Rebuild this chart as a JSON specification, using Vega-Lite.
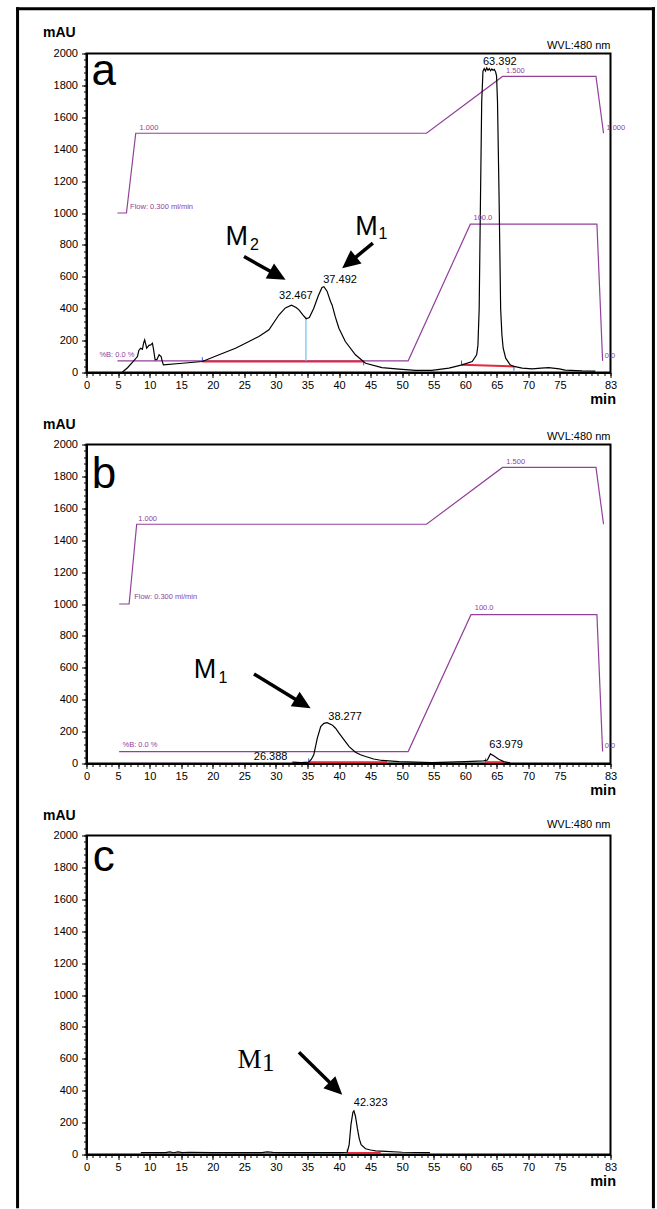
{
 "$schema": "https://vega.github.io/schema/vega-lite/v6.json",
 "background": "white",
 "padding": {"left": 13.5, "top": 5.5, "right": 0, "bottom": 0},
 "spacing": 72,
 "bounds": "flush",
 "config": {
  "font": "Liberation Sans",
  "view": {"stroke": "black", "strokeWidth": 2},
  "axis": {"domainColor": "black", "domainWidth": 2, "tickColor": "black", "labelColor": "black", "labelFont": "Liberation Sans", "labelFontSize": 11, "grid": false, "titleColor": "black", "titleFont": "Liberation Sans"}
 },
 "datasets": {
  "frame": [
   {"t": -10.92, "v": 2280, "t2": -10.92, "v2": -5230},
   {"t": 89.8, "v": 2280, "t2": 89.8, "v2": -5230},
   {"t": -10.92, "v": 2280, "t2": 89.8, "v2": 2280}
  ],
  "chrom": [
   {"panel":"a","t":5.7,"v":3},{"panel":"a","t":6.5,"v":30},{"panel":"a","t":7.3,"v":65},{"panel":"a","t":8.07,"v":100},{"panel":"a","t":8.3,"v":140},{"panel":"a","t":8.59,"v":152},{"panel":"a","t":8.86,"v":145},{"panel":"a","t":9.05,"v":185},{"panel":"a","t":9.22,"v":205},{"panel":"a","t":9.4,"v":175},{"panel":"a","t":9.54,"v":152},{"panel":"a","t":9.89,"v":170},{"panel":"a","t":10.17,"v":173},{"panel":"a","t":10.44,"v":184},{"panel":"a","t":10.6,"v":150},{"panel":"a","t":10.87,"v":80},{"panel":"a","t":11.16,"v":82},{"panel":"a","t":11.5,"v":111},{"panel":"a","t":11.82,"v":100},{"panel":"a","t":12.0,"v":70},{"panel":"a","t":12.18,"v":48},{"panel":"a","t":15.19,"v":58},{"panel":"a","t":18.35,"v":69},{"panel":"a","t":21.0,"v":111},{"panel":"a","t":23.6,"v":152},{"panel":"a","t":25.5,"v":190},{"panel":"a","t":27.3,"v":226},{"panel":"a","t":28.9,"v":268},{"panel":"a","t":30.5,"v":362},{"panel":"a","t":31.5,"v":405},{"panel":"a","t":32.47,"v":422},{"panel":"a","t":33.2,"v":408},{"panel":"a","t":33.65,"v":393},{"panel":"a","t":34.3,"v":360},{"panel":"a","t":34.8,"v":337},{"panel":"a","t":35.3,"v":345},{"panel":"a","t":36.0,"v":403},{"panel":"a","t":36.7,"v":480},{"panel":"a","t":37.3,"v":533},{"panel":"a","t":37.6,"v":538},{"panel":"a","t":38.1,"v":510},{"panel":"a","t":38.65,"v":445},{"panel":"a","t":38.9,"v":424},{"panel":"a","t":39.4,"v":350},{"panel":"a","t":39.98,"v":278},{"panel":"a","t":41.0,"v":194},{"panel":"a","t":42.6,"v":111},{"panel":"a","t":44.2,"v":58},{"panel":"a","t":46.8,"v":31},{"panel":"a","t":49.5,"v":21},{"panel":"a","t":52.1,"v":13},{"panel":"a","t":54.7,"v":13},{"panel":"a","t":57.4,"v":27},{"panel":"a","t":59.5,"v":48},{"panel":"a","t":61.1,"v":69},{"panel":"a","t":61.8,"v":111},{"panel":"a","t":62.0,"v":170},{"panel":"a","t":62.2,"v":400},{"panel":"a","t":62.4,"v":1072},{"panel":"a","t":62.6,"v":1700},{"panel":"a","t":62.8,"v":1890},{"panel":"a","t":63.0,"v":1905},{"panel":"a","t":63.2,"v":1890},{"panel":"a","t":63.4,"v":1910},{"panel":"a","t":63.6,"v":1895},{"panel":"a","t":63.8,"v":1905},{"panel":"a","t":64.0,"v":1892},{"panel":"a","t":64.2,"v":1903},{"panel":"a","t":64.4,"v":1895},{"panel":"a","t":64.6,"v":1900},{"panel":"a","t":64.8,"v":1885},{"panel":"a","t":64.95,"v":1860},{"panel":"a","t":65.1,"v":1700},{"panel":"a","t":65.35,"v":1100},{"panel":"a","t":65.6,"v":400},{"panel":"a","t":65.8,"v":236},{"panel":"a","t":66.0,"v":152},{"panel":"a","t":66.4,"v":90},{"panel":"a","t":67.1,"v":48},{"panel":"a","t":67.7,"v":38},{"panel":"a","t":69.0,"v":27},{"panel":"a","t":70.6,"v":23},{"panel":"a","t":72.0,"v":28},{"panel":"a","t":73.2,"v":31},{"panel":"a","t":74.9,"v":23},{"panel":"a","t":75.8,"v":15},{"panel":"a","t":78.5,"v":10},{"panel":"a","t":80.6,"v":8},
   {"panel":"b","t":32.6,"v":8},{"panel":"b","t":34.0,"v":6},{"panel":"b","t":35.2,"v":8},{"panel":"b","t":35.6,"v":25},{"panel":"b","t":36.0,"v":54},{"panel":"b","t":36.55,"v":158},{"panel":"b","t":37.1,"v":231},{"panel":"b","t":37.6,"v":252},{"panel":"b","t":38.1,"v":256},{"panel":"b","t":38.9,"v":242},{"panel":"b","t":39.45,"v":221},{"panel":"b","t":40.0,"v":190},{"panel":"b","t":40.8,"v":148},{"panel":"b","t":41.6,"v":106},{"panel":"b","t":42.6,"v":71},{"panel":"b","t":43.4,"v":55},{"panel":"b","t":44.2,"v":44},{"panel":"b","t":45.5,"v":28},{"panel":"b","t":46.8,"v":19},{"panel":"b","t":49.5,"v":12},{"panel":"b","t":54.7,"v":6},{"panel":"b","t":60.0,"v":12},{"panel":"b","t":62.9,"v":17},{"panel":"b","t":63.5,"v":22},{"panel":"b","t":63.98,"v":60},{"panel":"b","t":64.5,"v":48},{"panel":"b","t":65.3,"v":27},{"panel":"b","t":66.1,"v":12},{"panel":"b","t":67.1,"v":4},
   {"panel":"c","t":8.6,"v":12},{"panel":"c","t":12.5,"v":12},{"panel":"c","t":13.2,"v":16},{"panel":"c","t":13.8,"v":11},{"panel":"c","t":14.5,"v":17},{"panel":"c","t":15.2,"v":12},{"panel":"c","t":16.3,"v":14},{"panel":"c","t":20.0,"v":12},{"panel":"c","t":27.8,"v":12},{"panel":"c","t":28.6,"v":16},{"panel":"c","t":29.5,"v":13},{"panel":"c","t":30.5,"v":12},{"panel":"c","t":40.0,"v":12},{"panel":"c","t":41.3,"v":14},{"panel":"c","t":41.6,"v":60},{"panel":"c","t":41.9,"v":190},{"panel":"c","t":42.2,"v":265},{"panel":"c","t":42.36,"v":274},{"panel":"c","t":42.6,"v":240},{"panel":"c","t":42.9,"v":165},{"panel":"c","t":43.2,"v":100},{"panel":"c","t":43.5,"v":61},{"panel":"c","t":44.2,"v":36},{"panel":"c","t":45.0,"v":28},{"panel":"c","t":45.8,"v":23},{"panel":"c","t":47.4,"v":19},{"panel":"c","t":50.0,"v":14},{"panel":"c","t":54.4,"v":12}
  ],
  "grad": [
   {"panel":"a","series":"flow","t":4.9,"v":1000},{"panel":"a","series":"flow","t":6.33,"v":1000},{"panel":"a","series":"flow","t":7.8,"v":1500},{"panel":"a","series":"flow","t":53.85,"v":1500},{"panel":"a","series":"flow","t":65.9,"v":1856},{"panel":"a","series":"flow","t":80.7,"v":1856},{"panel":"a","series":"flow","t":81.9,"v":1500},
   {"panel":"a","series":"B","t":4.9,"v":73},{"panel":"a","series":"B","t":50.95,"v":73},{"panel":"a","series":"B","t":60.8,"v":930},{"panel":"a","series":"B","t":80.85,"v":930},{"panel":"a","series":"B","t":81.75,"v":73},
   {"panel":"b","series":"flow","t":5.17,"v":1000},{"panel":"b","series":"flow","t":6.75,"v":1000},{"panel":"b","series":"flow","t":7.95,"v":1500},{"panel":"b","series":"flow","t":53.85,"v":1500},{"panel":"b","series":"flow","t":65.9,"v":1856},{"panel":"b","series":"flow","t":80.7,"v":1856},{"panel":"b","series":"flow","t":81.9,"v":1500},
   {"panel":"b","series":"B","t":5.17,"v":75},{"panel":"b","series":"B","t":50.95,"v":75},{"panel":"b","series":"B","t":60.9,"v":933},{"panel":"b","series":"B","t":80.85,"v":933},{"panel":"b","series":"B","t":81.75,"v":75}
  ],
  "base": [
   {"panel":"a","t":18.35,"v":69,"t2":43.9,"v2":69},{"panel":"a","t":59.4,"v":48,"t2":67.7,"v2":38},
   {"panel":"b","t":35.2,"v":8,"t2":47.6,"v2":8},{"panel":"b","t":63.2,"v":8,"t2":66.1,"v2":8},
   {"panel":"c","t":41.3,"v":10,"t2":46.6,"v2":10}
  ],
  "marks": [
   {"panel":"a","t":18.35,"v":69,"v2":95},{"panel":"a","t":43.9,"v":69,"v2":45},{"panel":"a","t":59.4,"v":48,"v2":75},{"panel":"a","t":67.7,"v":38,"v2":12},
   {"panel":"b","t":35.2,"v":6,"v2":32},{"panel":"b","t":63.2,"v":6,"v2":32},
   {"panel":"c","t":41.3,"v":8,"v2":34}
  ],
  "drop": [
   {"panel":"a","t":34.76,"v":73,"v2":350}
  ],
  "labels": [
   {"panel":"a","kind":"wvl","t":83,"v":2031,"text":"WVL:480 nm"},{"panel":"b","kind":"wvl","t":83,"v":2031,"text":"WVL:480 nm"},{"panel":"c","kind":"wvl","t":83,"v":2044,"text":"WVL:480 nm"},
   {"panel":"a","kind":"peak","t":30.5,"v":460,"text":"32.467"},{"panel":"a","kind":"peak","t":37.5,"v":560,"text":"37.492"},{"panel":"a","kind":"peak","t":62.8,"v":1929,"text":"63.392"},
   {"panel":"b","kind":"peak","t":26.5,"v":19,"text":"26.388"},{"panel":"b","kind":"peak","t":38.3,"v":273,"text":"38.277"},{"panel":"b","kind":"peak","t":63.8,"v":100,"text":"63.979"},
   {"panel":"c","kind":"peak","t":42.35,"v":305,"text":"42.323"},
   {"panel":"a","kind":"grad","t":6.9,"v":1026,"text":"Flow: 0.300 ml/min"},{"panel":"a","kind":"grad","t":8.4,"v":1523,"text":"1.000"},{"panel":"a","kind":"grad","t":66.45,"v":1877,"text":"1.500"},{"panel":"a","kind":"grad","t":82.35,"v":1521,"text":"1.000"},{"panel":"a","kind":"grad","t":2.05,"v":100,"text":"%B: 0.0 %"},{"panel":"a","kind":"grad","t":61.3,"v":953,"text":"100.0"},{"panel":"a","kind":"grad","t":82.1,"v":94,"text":"0.0"},
   {"panel":"b","kind":"grad","t":7.55,"v":1030,"text":"Flow: 0.300 ml/min"},{"panel":"b","kind":"grad","t":8.2,"v":1523,"text":"1.000"},{"panel":"b","kind":"grad","t":66.5,"v":1880,"text":"1.500"},{"panel":"b","kind":"grad","t":5.7,"v":102,"text":"%B: 0.0 %"},{"panel":"b","kind":"grad","t":61.5,"v":960,"text":"100.0"},{"panel":"b","kind":"grad","t":82.1,"v":100,"text":"0.0"},
   {"panel":"a","kind":"M","t":22.0,"v":802,"text":"M"},{"panel":"a","kind":"M","t":42.56,"v":863,"text":"M"},{"panel":"b","kind":"M","t":16.98,"v":533,"text":"M"},{"panel":"c","kind":"M","t":23.9,"v":541,"text":"M"},
   {"panel":"a","kind":"sub","t":25.9,"v":765,"text":"2"},{"panel":"a","kind":"sub","t":46.25,"v":834,"text":"1"},{"panel":"b","kind":"sub","t":20.9,"v":502,"text":"1"},{"panel":"c","kind":"sub","t":27.8,"v":525,"text":"1"},
   {"panel":"a","kind":"letter","t":0.8,"v":1804,"text":"a"},{"panel":"b","kind":"letter","t":0.85,"v":1726,"text":"b"},{"panel":"c","kind":"letter","t":1.0,"v":1776,"text":"c"}
  ],
  "arrows": [
   {"panel":"a","t":24.95,"v":727,"t2":29.46,"v2":627,"tt":31.53,"tv":581,"angle":29.25},
   {"panel":"a","t":45.36,"v":811,"t2":42.34,"v2":713,"tt":40.5,"tv":654,"angle":140.8},
   {"panel":"b","t":26.53,"v":561,"t2":33.47,"v2":394,"tt":35.49,"tv":346,"angle":31.3},
   {"panel":"c","t":33.65,"v":641,"t2":38.81,"v2":440,"tt":40.5,"tv":374,"angle":44.5}
  ]
 },
 "vconcat": [
  {
   "width": 524, "height": 319,
   "encoding": {
    "x": {"field": "t", "type": "quantitative", "scale": {"domain": [0, 83], "nice": false, "zero": false}, "axis": null},
    "y": {"field": "v", "type": "quantitative", "scale": {"domain": [0, 2000], "nice": false}, "axis": null}
   },
   "layer": [
    {"data": {"name": "frame"}, "mark": {"type": "rule", "clip": false, "strokeWidth": 3, "strokeCap": "square", "color": "black"}, "encoding": {"x2": {"field": "t2"}, "y2": {"field": "v2"}}},
    {"data": {"name": "grad"}, "transform": [{"filter": "datum.panel === 'a'"}], "mark": {"type": "line", "color": "#92409a", "strokeWidth": 1.2}, "encoding": {"detail": {"field": "series"}}},
    {"data": {"name": "base"}, "transform": [{"filter": "datum.panel === 'a'"}], "mark": {"type": "rule", "color": "#e3283a", "strokeWidth": 2},
     "encoding": {
      "x": {"field": "t", "type": "quantitative", "scale": {"domain": [0, 83], "nice": false, "zero": false}, "axis": {"orient": "bottom", "values": [0,1,2,3,4,5,6,7,8,9,10,11,12,13,14,15,16,17,18,19,20,21,22,23,24,25,26,27,28,29,30,31,32,33,34,35,36,37,38,39,40,41,42,43,44,45,46,47,48,49,50,51,52,53,54,55,56,57,58,59,60,61,62,63,64,65,66,67,68,69,70,71,72,73,74,75,76,77,78,79,80,81,82,83], "tickSize": 3, "labels": false, "domain": false, "title": null}},
      "y": {"field": "v", "type": "quantitative", "scale": {"domain": [0, 2000], "nice": false}, "axis": {"orient": "left", "values": [0,40,80,120,160,200,240,280,320,360,400,440,480,520,560,600,640,680,720,760,800,840,880,920,960,1000,1040,1080,1120,1160,1200,1240,1280,1320,1360,1400,1440,1480,1520,1560,1600,1640,1680,1720,1760,1800,1840,1880,1920,1960,2000], "tickSize": 3, "labels": false, "domain": false, "title": null}},
      "x2": {"field": "t2"}, "y2": {"field": "v2"}}},
    {"data": {"name": "drop"}, "transform": [{"filter": "datum.panel === 'a'"}], "mark": {"type": "rule", "color": "#6cc0e0", "strokeWidth": 1.2}, "encoding": {"y2": {"field": "v2"}}},
    {"data": {"name": "marks"}, "transform": [{"filter": "datum.panel === 'a'"}], "mark": {"type": "rule", "color": "#3556c8", "strokeWidth": 1}, "encoding": {"y2": {"field": "v2"}}},
    {"data": {"name": "chrom"}, "transform": [{"filter": "datum.panel === 'a'"}], "mark": {"type": "line", "color": "black", "strokeWidth": 1.2},
     "encoding": {
      "x": {"field": "t", "type": "quantitative", "scale": {"domain": [0, 83], "nice": false, "zero": false}, "axis": {"orient": "bottom", "values": [0,5,10,15,20,25,30,35,40,45,50,55,60,65,70,75,83], "format": "d", "tickSize": 5, "labelPadding": 2, "labelFlush": false, "labelOverlap": false, "title": "min", "titleFontSize": 14.5, "titleFontWeight": "bold", "titleX": 529, "titleY": 31, "titleAlign": "right", "titleBaseline": "alphabetic", "titleAnchor": null}},
      "y": {"field": "v", "type": "quantitative", "scale": {"domain": [0, 2000], "nice": false}, "axis": {"orient": "left", "values": [0,200,400,600,800,1000,1200,1400,1600,1800,2000], "format": "d", "tickSize": 5, "labelPadding": 4, "labelFlush": false, "labelOverlap": false, "title": "mAU", "titleAngle": 0, "titleAlign": "left", "titleBaseline": "alphabetic", "titleX": -44, "titleY": -17, "titleFontSize": 14, "titleFontWeight": "bold"}}}},
    {"data": {"name": "labels"}, "transform": [{"filter": "datum.panel === 'a' && datum.kind === 'wvl'"}], "mark": {"type": "text", "align": "right", "baseline": "alphabetic", "fontSize": 11, "color": "black"}, "encoding": {"text": {"field": "text"}}},
    {"data": {"name": "labels"}, "transform": [{"filter": "datum.panel === 'a' && datum.kind === 'grad'"}], "mark": {"type": "text", "align": "left", "baseline": "alphabetic", "fontSize": 7.5, "color": "#92409a"}, "encoding": {"text": {"field": "text"}}},
    {"data": {"name": "labels"}, "transform": [{"filter": "datum.panel === 'a' && datum.kind === 'peak'"}], "mark": {"type": "text", "align": "left", "baseline": "alphabetic", "fontSize": 11, "color": "black"}, "encoding": {"text": {"field": "text"}}},
    {"data": {"name": "labels"}, "transform": [{"filter": "datum.panel === 'a' && datum.kind === 'M'"}], "mark": {"type": "text", "align": "left", "baseline": "alphabetic", "fontSize": 27, "color": "black"}, "encoding": {"text": {"field": "text"}}},
    {"data": {"name": "labels"}, "transform": [{"filter": "datum.panel === 'a' && datum.kind === 'sub'"}], "mark": {"type": "text", "align": "left", "baseline": "alphabetic", "fontSize": 16, "color": "black"}, "encoding": {"text": {"field": "text"}}},
    {"data": {"name": "labels"}, "transform": [{"filter": "datum.panel === 'a' && datum.kind === 'letter'"}], "mark": {"type": "text", "align": "left", "baseline": "alphabetic", "fontSize": 44, "color": "black"}, "encoding": {"text": {"field": "text"}}},
    {"data": {"name": "arrows"}, "transform": [{"filter": "datum.panel === 'a'"}], "mark": {"type": "rule", "color": "black", "strokeWidth": 3.5}, "encoding": {"x2": {"field": "t2"}, "y2": {"field": "v2"}}},
    {"data": {"name": "arrows"}, "transform": [{"filter": "datum.panel === 'a'"}], "mark": {"type": "point", "shape": "M 0 0 L -2 -0.95 L -2 0.95 Z", "size": 324, "filled": true, "color": "black", "opacity": 1, "strokeWidth": 0},
     "encoding": {"x": {"field": "tt", "type": "quantitative", "scale": {"domain": [0, 83], "nice": false, "zero": false}, "axis": null}, "y": {"field": "tv", "type": "quantitative", "scale": {"domain": [0, 2000], "nice": false}, "axis": null}, "angle": {"field": "angle", "type": "quantitative", "scale": null}}}
   ],
   "resolve": {"axis": {"x": "independent", "y": "independent"}}
  },
  {
   "width": 524, "height": 319,
   "encoding": {
    "x": {"field": "t", "type": "quantitative", "scale": {"domain": [0, 83], "nice": false, "zero": false}, "axis": null},
    "y": {"field": "v", "type": "quantitative", "scale": {"domain": [0, 2000], "nice": false}, "axis": null}
   },
   "layer": [
    {"data": {"name": "grad"}, "transform": [{"filter": "datum.panel === 'b'"}], "mark": {"type": "line", "color": "#92409a", "strokeWidth": 1.2}, "encoding": {"detail": {"field": "series"}}},
    {"data": {"name": "base"}, "transform": [{"filter": "datum.panel === 'b'"}], "mark": {"type": "rule", "color": "#e3283a", "strokeWidth": 2},
     "encoding": {
      "x": {"field": "t", "type": "quantitative", "scale": {"domain": [0, 83], "nice": false, "zero": false}, "axis": {"orient": "bottom", "values": [0,1,2,3,4,5,6,7,8,9,10,11,12,13,14,15,16,17,18,19,20,21,22,23,24,25,26,27,28,29,30,31,32,33,34,35,36,37,38,39,40,41,42,43,44,45,46,47,48,49,50,51,52,53,54,55,56,57,58,59,60,61,62,63,64,65,66,67,68,69,70,71,72,73,74,75,76,77,78,79,80,81,82,83], "tickSize": 3, "labels": false, "domain": false, "title": null}},
      "y": {"field": "v", "type": "quantitative", "scale": {"domain": [0, 2000], "nice": false}, "axis": {"orient": "left", "values": [0,40,80,120,160,200,240,280,320,360,400,440,480,520,560,600,640,680,720,760,800,840,880,920,960,1000,1040,1080,1120,1160,1200,1240,1280,1320,1360,1400,1440,1480,1520,1560,1600,1640,1680,1720,1760,1800,1840,1880,1920,1960,2000], "tickSize": 3, "labels": false, "domain": false, "title": null}},
      "x2": {"field": "t2"}, "y2": {"field": "v2"}}},
    {"data": {"name": "marks"}, "transform": [{"filter": "datum.panel === 'b'"}], "mark": {"type": "rule", "color": "#3556c8", "strokeWidth": 1}, "encoding": {"y2": {"field": "v2"}}},
    {"data": {"name": "chrom"}, "transform": [{"filter": "datum.panel === 'b'"}], "mark": {"type": "line", "color": "black", "strokeWidth": 1.2},
     "encoding": {
      "x": {"field": "t", "type": "quantitative", "scale": {"domain": [0, 83], "nice": false, "zero": false}, "axis": {"orient": "bottom", "values": [0,5,10,15,20,25,30,35,40,45,50,55,60,65,70,75,83], "format": "d", "tickSize": 5, "labelPadding": 2, "labelFlush": false, "labelOverlap": false, "title": "min", "titleFontSize": 14.5, "titleFontWeight": "bold", "titleX": 529, "titleY": 31, "titleAlign": "right", "titleBaseline": "alphabetic", "titleAnchor": null}},
      "y": {"field": "v", "type": "quantitative", "scale": {"domain": [0, 2000], "nice": false}, "axis": {"orient": "left", "values": [0,200,400,600,800,1000,1200,1400,1600,1800,2000], "format": "d", "tickSize": 5, "labelPadding": 4, "labelFlush": false, "labelOverlap": false, "title": "mAU", "titleAngle": 0, "titleAlign": "left", "titleBaseline": "alphabetic", "titleX": -44, "titleY": -16, "titleFontSize": 14, "titleFontWeight": "bold"}}}},
    {"data": {"name": "labels"}, "transform": [{"filter": "datum.panel === 'b' && datum.kind === 'wvl'"}], "mark": {"type": "text", "align": "right", "baseline": "alphabetic", "fontSize": 11, "color": "black"}, "encoding": {"text": {"field": "text"}}},
    {"data": {"name": "labels"}, "transform": [{"filter": "datum.panel === 'b' && datum.kind === 'grad'"}], "mark": {"type": "text", "align": "left", "baseline": "alphabetic", "fontSize": 7.5, "color": "#92409a"}, "encoding": {"text": {"field": "text"}}},
    {"data": {"name": "labels"}, "transform": [{"filter": "datum.panel === 'b' && datum.kind === 'peak'"}], "mark": {"type": "text", "align": "left", "baseline": "alphabetic", "fontSize": 11, "color": "black"}, "encoding": {"text": {"field": "text"}}},
    {"data": {"name": "labels"}, "transform": [{"filter": "datum.panel === 'b' && datum.kind === 'M'"}], "mark": {"type": "text", "align": "left", "baseline": "alphabetic", "fontSize": 27, "color": "black"}, "encoding": {"text": {"field": "text"}}},
    {"data": {"name": "labels"}, "transform": [{"filter": "datum.panel === 'b' && datum.kind === 'sub'"}], "mark": {"type": "text", "align": "left", "baseline": "alphabetic", "fontSize": 16, "color": "black"}, "encoding": {"text": {"field": "text"}}},
    {"data": {"name": "labels"}, "transform": [{"filter": "datum.panel === 'b' && datum.kind === 'letter'"}], "mark": {"type": "text", "align": "left", "baseline": "alphabetic", "fontSize": 44, "color": "black"}, "encoding": {"text": {"field": "text"}}},
    {"data": {"name": "arrows"}, "transform": [{"filter": "datum.panel === 'b'"}], "mark": {"type": "rule", "color": "black", "strokeWidth": 3.5}, "encoding": {"x2": {"field": "t2"}, "y2": {"field": "v2"}}},
    {"data": {"name": "arrows"}, "transform": [{"filter": "datum.panel === 'b'"}], "mark": {"type": "point", "shape": "M 0 0 L -2 -0.95 L -2 0.95 Z", "size": 324, "filled": true, "color": "black", "opacity": 1, "strokeWidth": 0},
     "encoding": {"x": {"field": "tt", "type": "quantitative", "scale": {"domain": [0, 83], "nice": false, "zero": false}, "axis": null}, "y": {"field": "tv", "type": "quantitative", "scale": {"domain": [0, 2000], "nice": false}, "axis": null}, "angle": {"field": "angle", "type": "quantitative", "scale": null}}}
   ],
   "resolve": {"axis": {"x": "independent", "y": "independent"}}
  },
  {
   "width": 524, "height": 319,
   "encoding": {
    "x": {"field": "t", "type": "quantitative", "scale": {"domain": [0, 83], "nice": false, "zero": false}, "axis": null},
    "y": {"field": "v", "type": "quantitative", "scale": {"domain": [0, 2000], "nice": false}, "axis": null}
   },
   "layer": [
    {"data": {"name": "base"}, "transform": [{"filter": "datum.panel === 'c'"}], "mark": {"type": "rule", "color": "#e3283a", "strokeWidth": 2},
     "encoding": {
      "x": {"field": "t", "type": "quantitative", "scale": {"domain": [0, 83], "nice": false, "zero": false}, "axis": {"orient": "bottom", "values": [0,1,2,3,4,5,6,7,8,9,10,11,12,13,14,15,16,17,18,19,20,21,22,23,24,25,26,27,28,29,30,31,32,33,34,35,36,37,38,39,40,41,42,43,44,45,46,47,48,49,50,51,52,53,54,55,56,57,58,59,60,61,62,63,64,65,66,67,68,69,70,71,72,73,74,75,76,77,78,79,80,81,82,83], "tickSize": 3, "labels": false, "domain": false, "title": null}},
      "y": {"field": "v", "type": "quantitative", "scale": {"domain": [0, 2000], "nice": false}, "axis": {"orient": "left", "values": [0,40,80,120,160,200,240,280,320,360,400,440,480,520,560,600,640,680,720,760,800,840,880,920,960,1000,1040,1080,1120,1160,1200,1240,1280,1320,1360,1400,1440,1480,1520,1560,1600,1640,1680,1720,1760,1800,1840,1880,1920,1960,2000], "tickSize": 3, "labels": false, "domain": false, "title": null}},
      "x2": {"field": "t2"}, "y2": {"field": "v2"}}},
    {"data": {"name": "marks"}, "transform": [{"filter": "datum.panel === 'c'"}], "mark": {"type": "rule", "color": "#3556c8", "strokeWidth": 1}, "encoding": {"y2": {"field": "v2"}}},
    {"data": {"name": "chrom"}, "transform": [{"filter": "datum.panel === 'c'"}], "mark": {"type": "line", "color": "black", "strokeWidth": 1.2},
     "encoding": {
      "x": {"field": "t", "type": "quantitative", "scale": {"domain": [0, 83], "nice": false, "zero": false}, "axis": {"orient": "bottom", "values": [0,5,10,15,20,25,30,35,40,45,50,55,60,65,70,75,83], "format": "d", "tickSize": 5, "labelPadding": 2, "labelFlush": false, "labelOverlap": false, "title": "min", "titleFontSize": 14.5, "titleFontWeight": "bold", "titleX": 529, "titleY": 31, "titleAlign": "right", "titleBaseline": "alphabetic", "titleAnchor": null}},
      "y": {"field": "v", "type": "quantitative", "scale": {"domain": [0, 2000], "nice": false}, "axis": {"orient": "left", "values": [0,200,400,600,800,1000,1200,1400,1600,1800,2000], "format": "d", "tickSize": 5, "labelPadding": 4, "labelFlush": false, "labelOverlap": false, "title": "mAU", "titleAngle": 0, "titleAlign": "left", "titleBaseline": "alphabetic", "titleX": -44, "titleY": -16, "titleFontSize": 14, "titleFontWeight": "bold"}}}},
    {"data": {"name": "labels"}, "transform": [{"filter": "datum.panel === 'c' && datum.kind === 'wvl'"}], "mark": {"type": "text", "align": "right", "baseline": "alphabetic", "fontSize": 11, "color": "black"}, "encoding": {"text": {"field": "text"}}},
    {"data": {"name": "labels"}, "transform": [{"filter": "datum.panel === 'c' && datum.kind === 'peak'"}], "mark": {"type": "text", "align": "left", "baseline": "alphabetic", "fontSize": 11, "color": "black"}, "encoding": {"text": {"field": "text"}}},
    {"data": {"name": "labels"}, "transform": [{"filter": "datum.panel === 'c' && datum.kind === 'M'"}], "mark": {"type": "text", "align": "left", "baseline": "alphabetic", "fontSize": 27, "font": "Liberation Serif", "color": "black"}, "encoding": {"text": {"field": "text"}}},
    {"data": {"name": "labels"}, "transform": [{"filter": "datum.panel === 'c' && datum.kind === 'sub'"}], "mark": {"type": "text", "align": "left", "baseline": "alphabetic", "fontSize": 25, "font": "Liberation Serif", "color": "black"}, "encoding": {"text": {"field": "text"}}},
    {"data": {"name": "labels"}, "transform": [{"filter": "datum.panel === 'c' && datum.kind === 'letter'"}], "mark": {"type": "text", "align": "left", "baseline": "alphabetic", "fontSize": 44, "color": "black"}, "encoding": {"text": {"field": "text"}}},
    {"data": {"name": "arrows"}, "transform": [{"filter": "datum.panel === 'c'"}], "mark": {"type": "rule", "color": "black", "strokeWidth": 3.5}, "encoding": {"x2": {"field": "t2"}, "y2": {"field": "v2"}}},
    {"data": {"name": "arrows"}, "transform": [{"filter": "datum.panel === 'c'"}], "mark": {"type": "point", "shape": "M 0 0 L -2 -0.95 L -2 0.95 Z", "size": 324, "filled": true, "color": "black", "opacity": 1, "strokeWidth": 0},
     "encoding": {"x": {"field": "tt", "type": "quantitative", "scale": {"domain": [0, 83], "nice": false, "zero": false}, "axis": null}, "y": {"field": "tv", "type": "quantitative", "scale": {"domain": [0, 2000], "nice": false}, "axis": null}, "angle": {"field": "angle", "type": "quantitative", "scale": null}}}
   ],
   "resolve": {"axis": {"x": "independent", "y": "independent"}}
  }
 ]
}
